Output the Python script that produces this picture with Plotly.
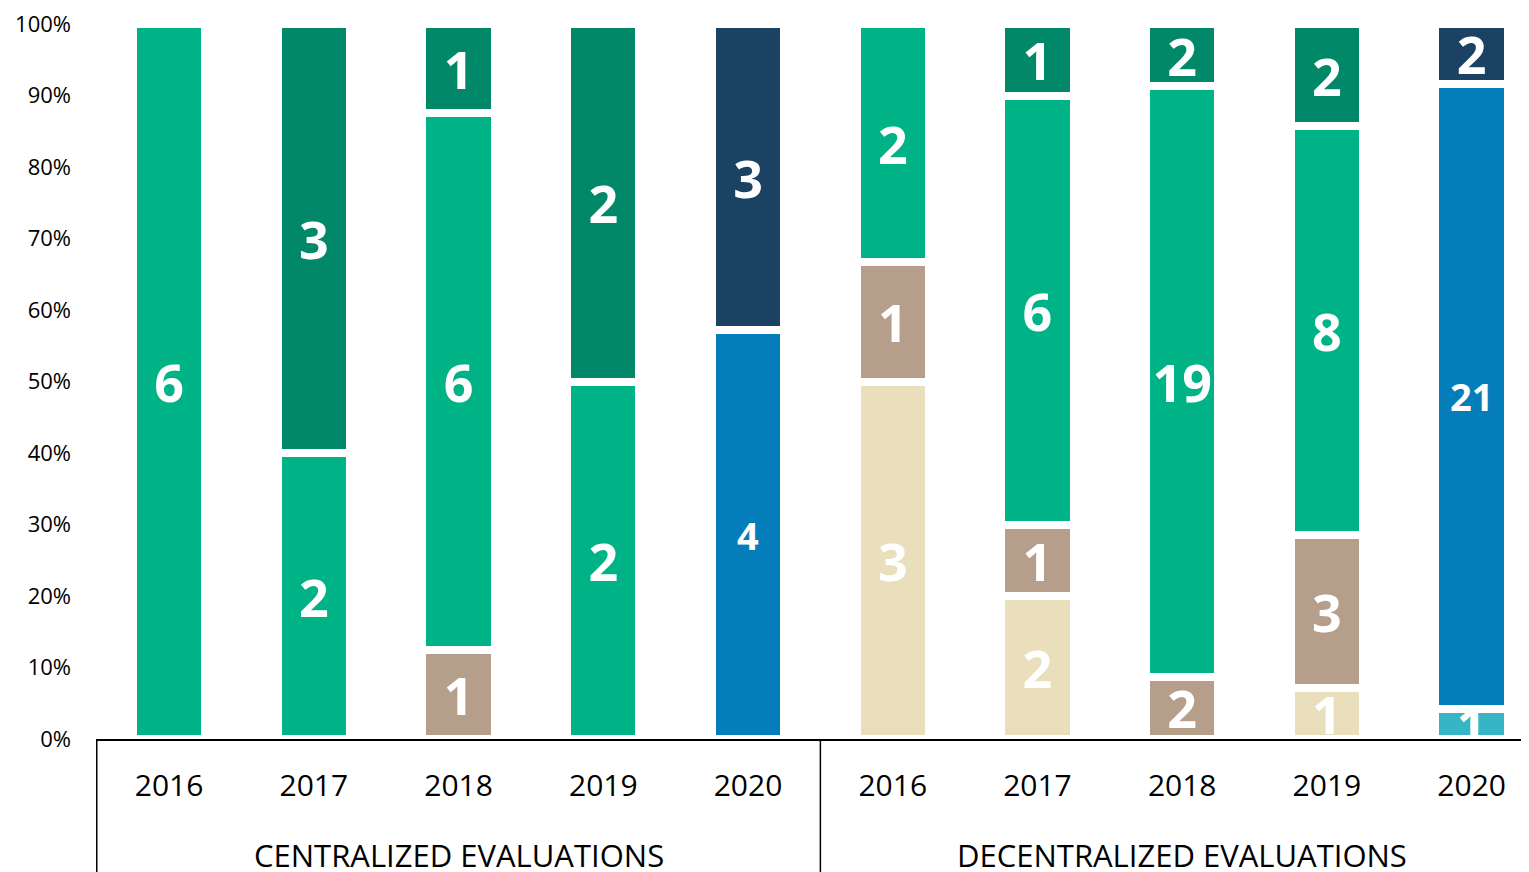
import plotly.graph_objects as go

years = ["2016", "2017", "2018", "2019", "2020"] * 2
groups = ["CENTRALIZED EVALUATIONS"] * 5 + ["DECENTRALIZED EVALUATIONS"] * 5
group_names = ["CENTRALIZED EVALUATIONS", "DECENTRALIZED EVALUATIONS"]

# counts per segment, bottom to top (None = segment absent)
beige = [None, None, None, None, None, 3, 2, None, 1, None]
tan = [None, None, 1, None, None, 1, 1, 2, 3, None]
cyan = [None, None, None, None, None, None, None, None, None, 1]
green = [6, 2, 6, 2, None, 2, 6, 19, 8, None]
dark_green = [None, 3, 1, 2, None, None, 1, 2, 2, None]
blue = [None, None, None, None, 4, None, None, None, None, 21]
navy = [None, None, None, None, 3, None, None, None, None, 2]

series = [
    (beige, "#EADFBC", 52),
    (tan, "#B59F8B", 52),
    (cyan, "#38B5C5", 52),
    (green, "#00B386", 52),
    (dark_green, "#008868", 52),
    (blue, "#047DBB", 38),
    (navy, "#1B4263", 52),
]

# one category per bar, shown with its year only
cats = [g + " " + y for g, y in zip(groups, years)]

fig = go.Figure()
for values, color, size in series:
    fig.add_trace(go.Bar(
        x=cats,
        y=values,
        text=[("" if v is None else str(v)) for v in values],
        textposition="inside",
        insidetextanchor="middle",
        constraintext="none",
        textangle=0,
        textfont=dict(family="Open Sans", size=size, color="white", weight="bold"),
        marker=dict(color=color, line=dict(color="white", width=8)),
        width=0.5,
        showlegend=False,
    ))

# group labels and dividers under the axis
n_per_group = len(cats) // len(group_names)
for i, name in enumerate(group_names):
    fig.add_annotation(
        x=i * n_per_group + (n_per_group - 1) / 2, xref="x",
        y=-0.162, yref="paper", yanchor="middle",
        text=name, showarrow=False,
        font=dict(family="Open Sans", size=31, color="black"),
    )
    fig.add_shape(
        type="line", xref="x", yref="paper",
        x0=i * n_per_group - 0.5, x1=i * n_per_group - 0.5,
        y0=0, y1=-0.2,
        line=dict(color="black", width=1.5),
    )

fig.update_layout(
    barmode="stack",
    barnorm="percent",
    width=1536,
    height=872,
    margin=dict(l=88, r=0, t=16, b=141),
    plot_bgcolor="white",
    paper_bgcolor="white",
    font=dict(family="Open Sans", color="black"),
)
fig.update_yaxes(
    range=[0, 100],
    dtick=10,
    ticksuffix="%",
    showgrid=False,
    zeroline=False,
    showline=False,
    tickfont=dict(size=22),
    ticklabelstandoff=24,
    ticklabeloverflow="allow",
    automargin=False,
)
fig.update_xaxes(
    type="category",
    tickvals=cats,
    ticktext=years,
    showline=True,
    linecolor="black",
    linewidth=2,
    tickfont=dict(size=30),
    ticklabelstandoff=19,
    showgrid=False,
    automargin=False,
)

fig.write_html("out.html")
